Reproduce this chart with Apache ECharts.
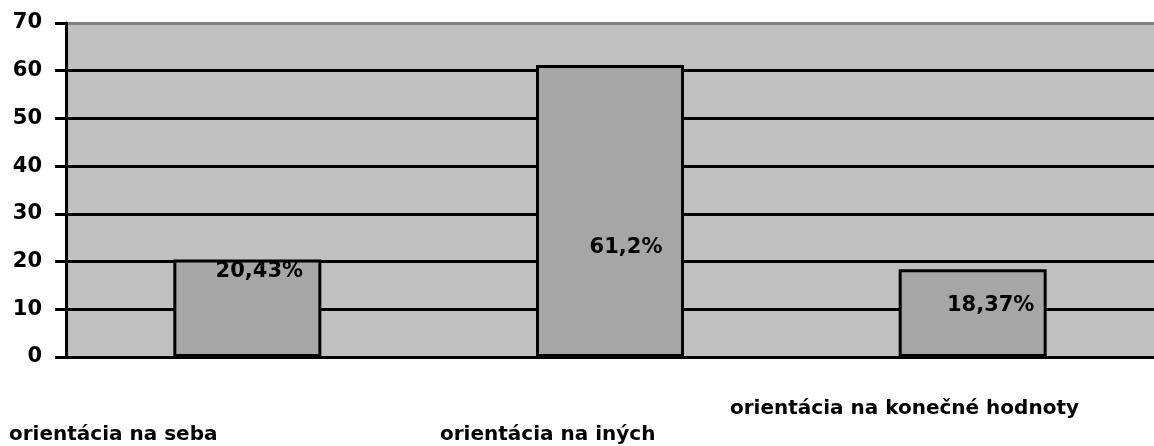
<!DOCTYPE html>
<html>
<head>
<meta charset="utf-8">
<style>
  html, body { margin: 0; padding: 0; background: #fff; }
  #graf { width: 1154px; height: 446px; }
</style>
<script src="https://cdn.jsdelivr.net/npm/echarts@6/dist/echarts.min.js"></script>
</head>
<body>
<div id="graf"></div>
<script>
var kategorie = ['orientácia na seba', 'orientácia na iných', 'orientácia na konečné hodnoty'];
var hodnoty = [20.43, 61.2, 18.37];
var popisky = ['20,43%', '61,2%', '18,37%'];
var osY = [0, 10, 20, 30, 40, 50, 60, 70];

// posun popisiek v stlpcoch (excel ich dal mimo stred)
var posunPopisky = [[12, -37], [16, 37], [18, -8]];
// popisky kategorii su posunute a na roznych vyskach
var polohaKat = [[9, 437], [440, 437], [730, 411]];

var pismo = 'DejaVu Sans';
var graf = echarts.init(document.getElementById('graf'));

var option = {
	animation: false,
	grid: {
		left: 66,
		top: 23,
		width: 1097,
		height: 334,
		show: true,
		backgroundColor: '#c0c0c0',
		borderWidth: 0
	},
	xAxis: {
		type: 'category',
		data: kategorie,
		axisLine: { lineStyle: { color: '#000', width: 3 } },
		axisTick: { length: 8, lineStyle: { color: '#000', width: 3 } },
		axisLabel: { show: false },
		splitLine: { show: false }
	},
	yAxis: {
		type: 'value',
		min: osY[0],
		max: osY[osY.length - 1],
		interval: 10,
		axisLine: { show: true, lineStyle: { color: '#000', width: 3 } },
		axisTick: { show: true, length: 11, lineStyle: { color: '#000', width: 3 } },
		axisLabel: {
			margin: 24,
			color: '#000',
			fontFamily: pismo,
			fontWeight: 'bold',
			fontSize: 21,
			padding: [4, 0, 0, 0]
		},
		splitLine: {
			lineStyle: {
				// horna ciara je siva (okraj plochy grafu)
				color: ['#000', '#000', '#000', '#000', '#000', '#000', '#000', '#808080'],
				width: 3
			}
		}
	},
	series: [{
		type: 'bar',
		barWidth: 148,
		data: hodnoty.map(function (v, i) {
			return {
				value: v,
				label: { offset: posunPopisky[i] }
			};
		}),
		itemStyle: {
			color: '#a6a6a6',
			borderColor: '#000',
			borderWidth: 3
		},
		label: {
			show: true,
			position: 'inside',
			color: '#000',
			fontFamily: pismo,
			fontWeight: 'bold',
			fontSize: 21,
			formatter: function (p) { return popisky[p.dataIndex]; }
		}
	}],
	graphic: kategorie.map(function (k, i) {
		return {
			type: 'text',
			left: polohaKat[i][0],
			top: polohaKat[i][1] - 12,
			style: {
				text: k,
				fill: '#000',
				font: 'bold 20px "' + pismo + '"'
			}
		};
	})
};
graf.setOption(option);

window.addEventListener('resize', function () {
	graf.resize();
});
</script>
</body>
</html>
